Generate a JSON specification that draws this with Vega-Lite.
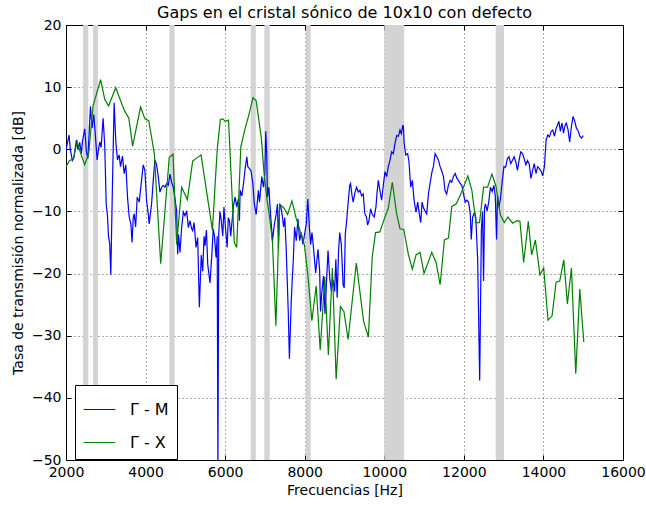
{
  "$schema": "https://vega.github.io/schema/vega-lite/v6.json",
  "autosize": "none",
  "width": 557,
  "height": 435,
  "padding": {"left": 66, "top": 25, "right": 23, "bottom": 45},
  "background": "white",
  "config": {
    "font": "DejaVu Sans",
    "view": {"stroke": "black", "strokeWidth": 1},
    "axis": {"labelFont": "DejaVu Sans", "titleFont": "DejaVu Sans", "labelColor": "black", "titleColor": "black", "domainColor": "black", "tickColor": "black", "titleFontWeight": "normal"}
  },
  "title": {"text": "Gaps en el cristal sónico de 10x10 con defecto", "font": "DejaVu Sans", "fontSize": 16, "fontWeight": "normal", "color": "black", "offset": 5, "dy": 8},
  "datasets": {
    "bands": [
      {"a": 2430, "b": 2560}, {"a": 2680, "b": 2805}, {"a": 4600, "b": 4730}, {"a": 6645, "b": 6770},
      {"a": 6985, "b": 7120}, {"a": 8030, "b": 8150}, {"a": 10000, "b": 10500}, {"a": 12800, "b": 13010}
    ],
    "series": [
      {"s": "Γ - M", "f": 2000, "v": -0.1}, {"s": "Γ - M", "f": 2026, "v": 0.7}, {"s": "Γ - M", "f": 2076, "v": 2.3}, {"s": "Γ - M", "f": 2110, "v": -0.1},
      {"s": "Γ - M", "f": 2160, "v": -1.8}, {"s": "Γ - M", "f": 2202, "v": -1.3}, {"s": "Γ - M", "f": 2261, "v": 1.5}, {"s": "Γ - M", "f": 2303, "v": -0.1},
      {"s": "Γ - M", "f": 2345, "v": 1.1}, {"s": "Γ - M", "f": 2387, "v": -0.7}, {"s": "Γ - M", "f": 2412, "v": 1.2}, {"s": "Γ - M", "f": 2471, "v": 3.3},
      {"s": "Γ - M", "f": 2513, "v": -0.4}, {"s": "Γ - M", "f": 2550, "v": -1.5}, {"s": "Γ - M", "f": 2614, "v": 6.9}, {"s": "Γ - M", "f": 2656, "v": 3.4},
      {"s": "Γ - M", "f": 2698, "v": 5.6}, {"s": "Γ - M", "f": 2740, "v": 2.1}, {"s": "Γ - M", "f": 2782, "v": -1.7}, {"s": "Γ - M", "f": 2816, "v": -0.1},
      {"s": "Γ - M", "f": 2849, "v": 1.2}, {"s": "Γ - M", "f": 2883, "v": 0.3}, {"s": "Γ - M", "f": 2933, "v": 5.0}, {"s": "Γ - M", "f": 2975, "v": 0.4},
      {"s": "Γ - M", "f": 3010, "v": -8.8}, {"s": "Γ - M", "f": 3040, "v": -10.5}, {"s": "Γ - M", "f": 3067, "v": -13.9}, {"s": "Γ - M", "f": 3100, "v": -15.3},
      {"s": "Γ - M", "f": 3126, "v": -20.2}, {"s": "Γ - M", "f": 3170, "v": -5}, {"s": "Γ - M", "f": 3210, "v": 7.5}, {"s": "Γ - M", "f": 3252, "v": 1.2},
      {"s": "Γ - M", "f": 3294, "v": -1.7}, {"s": "Γ - M", "f": 3336, "v": -0.9}, {"s": "Γ - M", "f": 3370, "v": -2.8}, {"s": "Γ - M", "f": 3420, "v": -1.1},
      {"s": "Γ - M", "f": 3462, "v": -3.9}, {"s": "Γ - M", "f": 3504, "v": -2.5}, {"s": "Γ - M", "f": 3546, "v": -7.7}, {"s": "Γ - M", "f": 3588, "v": -10.9},
      {"s": "Γ - M", "f": 3630, "v": -12}, {"s": "Γ - M", "f": 3660, "v": -15}, {"s": "Γ - M", "f": 3690, "v": -11}, {"s": "Γ - M", "f": 3714, "v": -10.4},
      {"s": "Γ - M", "f": 3750, "v": -12.5}, {"s": "Γ - M", "f": 3790, "v": -7.7}, {"s": "Γ - M", "f": 3840, "v": -8.5}, {"s": "Γ - M", "f": 3899, "v": -5.0},
      {"s": "Γ - M", "f": 3941, "v": -2.5}, {"s": "Γ - M", "f": 3983, "v": -3.4}, {"s": "Γ - M", "f": 4025, "v": -8.2}, {"s": "Γ - M", "f": 4067, "v": -10.4},
      {"s": "Γ - M", "f": 4092, "v": -12.0}, {"s": "Γ - M", "f": 4109, "v": -11}, {"s": "Γ - M", "f": 4151, "v": -8.8}, {"s": "Γ - M", "f": 4193, "v": -5.0},
      {"s": "Γ - M", "f": 4235, "v": -1.7}, {"s": "Γ - M", "f": 4277, "v": -2.5}, {"s": "Γ - M", "f": 4319, "v": -4.4}, {"s": "Γ - M", "f": 4361, "v": -6.9},
      {"s": "Γ - M", "f": 4403, "v": -6.1}, {"s": "Γ - M", "f": 4445, "v": -5.8}, {"s": "Γ - M", "f": 4487, "v": -6.1}, {"s": "Γ - M", "f": 4529, "v": -5.5},
      {"s": "Γ - M", "f": 4571, "v": -5.8}, {"s": "Γ - M", "f": 4613, "v": -4.0}, {"s": "Γ - M", "f": 4655, "v": -5.3}, {"s": "Γ - M", "f": 4697, "v": -6.1},
      {"s": "Γ - M", "f": 4739, "v": -8.0}, {"s": "Γ - M", "f": 4781, "v": -9.9}, {"s": "Γ - M", "f": 4806, "v": -16.9}, {"s": "Γ - M", "f": 4830, "v": -13.7},
      {"s": "Γ - M", "f": 4865, "v": -16.6}, {"s": "Γ - M", "f": 4907, "v": -12.6}, {"s": "Γ - M", "f": 4949, "v": -10.1}, {"s": "Γ - M", "f": 4991, "v": -10.7},
      {"s": "Γ - M", "f": 5033, "v": -9.9}, {"s": "Γ - M", "f": 5075, "v": -12.6}, {"s": "Γ - M", "f": 5117, "v": -11.5}, {"s": "Γ - M", "f": 5159, "v": -12.8},
      {"s": "Γ - M", "f": 5184, "v": -13.1}, {"s": "Γ - M", "f": 5220, "v": -11.8}, {"s": "Γ - M", "f": 5268, "v": -15.8}, {"s": "Γ - M", "f": 5310, "v": -14.2},
      {"s": "Γ - M", "f": 5352, "v": -25.4}, {"s": "Γ - M", "f": 5400, "v": -17}, {"s": "Γ - M", "f": 5436, "v": -19.6}, {"s": "Γ - M", "f": 5470, "v": -14},
      {"s": "Γ - M", "f": 5494, "v": -15.5}, {"s": "Γ - M", "f": 5530, "v": -13}, {"s": "Γ - M", "f": 5562, "v": -18.5}, {"s": "Γ - M", "f": 5620, "v": -21.5},
      {"s": "Γ - M", "f": 5672, "v": -16.3}, {"s": "Γ - M", "f": 5700, "v": -12.8}, {"s": "Γ - M", "f": 5730, "v": -13.9}, {"s": "Γ - M", "f": 5772, "v": -17.4},
      {"s": "Γ - M", "f": 5800, "v": -14}, {"s": "Γ - M", "f": 5818, "v": -52}, {"s": "Γ - M", "f": 5839, "v": -13.6}, {"s": "Γ - M", "f": 5870, "v": -10},
      {"s": "Γ - M", "f": 5898, "v": -11.2}, {"s": "Γ - M", "f": 5940, "v": -14}, {"s": "Γ - M", "f": 5970, "v": -9.3}, {"s": "Γ - M", "f": 6000, "v": -12.0},
      {"s": "Γ - M", "f": 6050, "v": -15.8}, {"s": "Γ - M", "f": 6080, "v": -11}, {"s": "Γ - M", "f": 6108, "v": -11.5}, {"s": "Γ - M", "f": 6140, "v": -14},
      {"s": "Γ - M", "f": 6167, "v": -12.0}, {"s": "Γ - M", "f": 6192, "v": -10.4}, {"s": "Γ - M", "f": 6209, "v": -9.1}, {"s": "Γ - M", "f": 6251, "v": -7.7},
      {"s": "Γ - M", "f": 6293, "v": -9.3}, {"s": "Γ - M", "f": 6330, "v": -8}, {"s": "Γ - M", "f": 6360, "v": -11.5}, {"s": "Γ - M", "f": 6377, "v": -6.6},
      {"s": "Γ - M", "f": 6420, "v": -7.5}, {"s": "Γ - M", "f": 6461, "v": -5.5}, {"s": "Γ - M", "f": 6503, "v": -3.1}, {"s": "Γ - M", "f": 6545, "v": -1.2},
      {"s": "Γ - M", "f": 6570, "v": -2.8}, {"s": "Γ - M", "f": 6612, "v": -3.1}, {"s": "Γ - M", "f": 6650, "v": -3.5}, {"s": "Γ - M", "f": 6696, "v": -5.5},
      {"s": "Γ - M", "f": 6734, "v": -8.8}, {"s": "Γ - M", "f": 6780, "v": -10.5}, {"s": "Γ - M", "f": 6835, "v": -6.6}, {"s": "Γ - M", "f": 6864, "v": -8.5},
      {"s": "Γ - M", "f": 6920, "v": -4.4}, {"s": "Γ - M", "f": 6964, "v": -6.1}, {"s": "Γ - M", "f": 6998, "v": -3.9}, {"s": "Γ - M", "f": 7020, "v": 2.9},
      {"s": "Γ - M", "f": 7045, "v": -0.7}, {"s": "Γ - M", "f": 7063, "v": -7.7}, {"s": "Γ - M", "f": 7099, "v": -6.1}, {"s": "Γ - M", "f": 7141, "v": -10.4},
      {"s": "Γ - M", "f": 7190, "v": -14.7}, {"s": "Γ - M", "f": 7232, "v": -12.3}, {"s": "Γ - M", "f": 7284, "v": -10.4}, {"s": "Γ - M", "f": 7316, "v": -8.8},
      {"s": "Γ - M", "f": 7340, "v": -16}, {"s": "Γ - M", "f": 7370, "v": -9.1}, {"s": "Γ - M", "f": 7401, "v": -9.3}, {"s": "Γ - M", "f": 7437, "v": -10.7},
      {"s": "Γ - M", "f": 7469, "v": -12.5}, {"s": "Γ - M", "f": 7500, "v": -11}, {"s": "Γ - M", "f": 7536, "v": -16.3}, {"s": "Γ - M", "f": 7586, "v": -26.1},
      {"s": "Γ - M", "f": 7615, "v": -33.7}, {"s": "Γ - M", "f": 7662, "v": -24.4}, {"s": "Γ - M", "f": 7690, "v": -20.5}, {"s": "Γ - M", "f": 7704, "v": -19.1},
      {"s": "Γ - M", "f": 7746, "v": -12.5}, {"s": "Γ - M", "f": 7788, "v": -14.7}, {"s": "Γ - M", "f": 7830, "v": -11.2}, {"s": "Γ - M", "f": 7872, "v": -14.7},
      {"s": "Γ - M", "f": 7914, "v": -13.4}, {"s": "Γ - M", "f": 7956, "v": -15.3}, {"s": "Γ - M", "f": 7998, "v": -13.6}, {"s": "Γ - M", "f": 8040, "v": -12.0},
      {"s": "Γ - M", "f": 8076, "v": -8.0}, {"s": "Γ - M", "f": 8118, "v": -12.6}, {"s": "Γ - M", "f": 8150, "v": -15.3}, {"s": "Γ - M", "f": 8182, "v": -13.4},
      {"s": "Γ - M", "f": 8224, "v": -16.1}, {"s": "Γ - M", "f": 8275, "v": -19.9}, {"s": "Γ - M", "f": 8334, "v": -16.1}, {"s": "Γ - M", "f": 8376, "v": -19.6},
      {"s": "Γ - M", "f": 8397, "v": -26.1}, {"s": "Γ - M", "f": 8430, "v": -23}, {"s": "Γ - M", "f": 8473, "v": -20.4}, {"s": "Γ - M", "f": 8510, "v": -26.5},
      {"s": "Γ - M", "f": 8544, "v": -21.8}, {"s": "Γ - M", "f": 8586, "v": -16.3}, {"s": "Γ - M", "f": 8628, "v": -20.7}, {"s": "Γ - M", "f": 8670, "v": -22.8},
      {"s": "Γ - M", "f": 8712, "v": -21}, {"s": "Γ - M", "f": 8751, "v": -22.9}, {"s": "Γ - M", "f": 8782, "v": -17.7}, {"s": "Γ - M", "f": 8816, "v": -23.9},
      {"s": "Γ - M", "f": 8850, "v": -16.5}, {"s": "Γ - M", "f": 8880, "v": -13.4}, {"s": "Γ - M", "f": 8920, "v": -15.3}, {"s": "Γ - M", "f": 8964, "v": -21.8},
      {"s": "Γ - M", "f": 8992, "v": -22.3}, {"s": "Γ - M", "f": 9020, "v": -13.6}, {"s": "Γ - M", "f": 9047, "v": -12.0}, {"s": "Γ - M", "f": 9089, "v": -8.8},
      {"s": "Γ - M", "f": 9131, "v": -5.8}, {"s": "Γ - M", "f": 9152, "v": -5.5}, {"s": "Γ - M", "f": 9190, "v": -7.5}, {"s": "Γ - M", "f": 9219, "v": -8.5},
      {"s": "Γ - M", "f": 9260, "v": -7}, {"s": "Γ - M", "f": 9303, "v": -6.1}, {"s": "Γ - M", "f": 9345, "v": -6.9}, {"s": "Γ - M", "f": 9387, "v": -6.6},
      {"s": "Γ - M", "f": 9430, "v": -7.5}, {"s": "Γ - M", "f": 9471, "v": -7.2}, {"s": "Γ - M", "f": 9511, "v": -10.4}, {"s": "Γ - M", "f": 9553, "v": -10.9},
      {"s": "Γ - M", "f": 9580, "v": -12.2}, {"s": "Γ - M", "f": 9615, "v": -11.5}, {"s": "Γ - M", "f": 9656, "v": -9.6}, {"s": "Γ - M", "f": 9700, "v": -10.5},
      {"s": "Γ - M", "f": 9748, "v": -10.9}, {"s": "Γ - M", "f": 9790, "v": -9.3}, {"s": "Γ - M", "f": 9820, "v": -6.9}, {"s": "Γ - M", "f": 9849, "v": -5.0},
      {"s": "Γ - M", "f": 9890, "v": -6.6}, {"s": "Γ - M", "f": 9933, "v": -8.2}, {"s": "Γ - M", "f": 9975, "v": -5.8}, {"s": "Γ - M", "f": 10017, "v": -3.6},
      {"s": "Γ - M", "f": 10059, "v": -4.4}, {"s": "Γ - M", "f": 10101, "v": -2.8}, {"s": "Γ - M", "f": 10143, "v": -1.8}, {"s": "Γ - M", "f": 10185, "v": -0.4},
      {"s": "Γ - M", "f": 10228, "v": -0.7}, {"s": "Γ - M", "f": 10269, "v": 0.9}, {"s": "Γ - M", "f": 10311, "v": 2.2}, {"s": "Γ - M", "f": 10354, "v": 2.1},
      {"s": "Γ - M", "f": 10395, "v": 3.1}, {"s": "Γ - M", "f": 10430, "v": 2.5}, {"s": "Γ - M", "f": 10465, "v": 3.9}, {"s": "Γ - M", "f": 10480, "v": 3.6},
      {"s": "Γ - M", "f": 10500, "v": 1.0}, {"s": "Γ - M", "f": 10538, "v": -0.9}, {"s": "Γ - M", "f": 10588, "v": -0.7}, {"s": "Γ - M", "f": 10620, "v": -2},
      {"s": "Γ - M", "f": 10664, "v": -6.1}, {"s": "Γ - M", "f": 10706, "v": -5.0}, {"s": "Γ - M", "f": 10748, "v": -8.2}, {"s": "Γ - M", "f": 10798, "v": -10.1},
      {"s": "Γ - M", "f": 10840, "v": -8.5}, {"s": "Γ - M", "f": 10880, "v": -10.4}, {"s": "Γ - M", "f": 10916, "v": -11.8}, {"s": "Γ - M", "f": 10949, "v": -8.5},
      {"s": "Γ - M", "f": 10990, "v": -9.5}, {"s": "Γ - M", "f": 11030, "v": -10}, {"s": "Γ - M", "f": 11067, "v": -10.4}, {"s": "Γ - M", "f": 11109, "v": -7.2},
      {"s": "Γ - M", "f": 11151, "v": -5.5}, {"s": "Γ - M", "f": 11199, "v": -3.6}, {"s": "Γ - M", "f": 11235, "v": -2.8}, {"s": "Γ - M", "f": 11277, "v": -0.7},
      {"s": "Γ - M", "f": 11320, "v": -1.2}, {"s": "Γ - M", "f": 11361, "v": -1.7}, {"s": "Γ - M", "f": 11403, "v": -2.8}, {"s": "Γ - M", "f": 11441, "v": -3.4},
      {"s": "Γ - M", "f": 11487, "v": -4.4}, {"s": "Γ - M", "f": 11526, "v": -6.6}, {"s": "Γ - M", "f": 11568, "v": -7.2}, {"s": "Γ - M", "f": 11610, "v": -5.8},
      {"s": "Γ - M", "f": 11655, "v": -5.0}, {"s": "Γ - M", "f": 11695, "v": -5.3}, {"s": "Γ - M", "f": 11737, "v": -4.4}, {"s": "Γ - M", "f": 11780, "v": -3.9},
      {"s": "Γ - M", "f": 11822, "v": -4.6}, {"s": "Γ - M", "f": 11864, "v": -5.0}, {"s": "Γ - M", "f": 11907, "v": -5.5}, {"s": "Γ - M", "f": 11949, "v": -5.8},
      {"s": "Γ - M", "f": 11992, "v": -7.2}, {"s": "Γ - M", "f": 12034, "v": -8.5}, {"s": "Γ - M", "f": 12075, "v": -8.2}, {"s": "Γ - M", "f": 12119, "v": -8.5},
      {"s": "Γ - M", "f": 12161, "v": -10.4}, {"s": "Γ - M", "f": 12186, "v": -14.5}, {"s": "Γ - M", "f": 12220, "v": -10.9}, {"s": "Γ - M", "f": 12271, "v": -10.1},
      {"s": "Γ - M", "f": 12300, "v": -11}, {"s": "Γ - M", "f": 12347, "v": -17.7}, {"s": "Γ - M", "f": 12398, "v": -37.2}, {"s": "Γ - M", "f": 12440, "v": -13},
      {"s": "Γ - M", "f": 12470, "v": -10}, {"s": "Γ - M", "f": 12495, "v": -21.2}, {"s": "Γ - M", "f": 12520, "v": -9.5}, {"s": "Γ - M", "f": 12542, "v": -8.8},
      {"s": "Γ - M", "f": 12584, "v": -9.9}, {"s": "Γ - M", "f": 12625, "v": -8.5}, {"s": "Γ - M", "f": 12669, "v": -6.1}, {"s": "Γ - M", "f": 12711, "v": -6.8},
      {"s": "Γ - M", "f": 12754, "v": -5.8}, {"s": "Γ - M", "f": 12790, "v": -7.5}, {"s": "Γ - M", "f": 12822, "v": -14.5}, {"s": "Γ - M", "f": 12847, "v": -7.4},
      {"s": "Γ - M", "f": 12881, "v": -9.3}, {"s": "Γ - M", "f": 12920, "v": -8}, {"s": "Γ - M", "f": 12966, "v": -5.0}, {"s": "Γ - M", "f": 13008, "v": -2.8},
      {"s": "Γ - M", "f": 13050, "v": -2.9}, {"s": "Γ - M", "f": 13093, "v": -1.5}, {"s": "Γ - M", "f": 13135, "v": -1.2}, {"s": "Γ - M", "f": 13177, "v": -2.3},
      {"s": "Γ - M", "f": 13220, "v": -1.8}, {"s": "Γ - M", "f": 13262, "v": -1.2}, {"s": "Γ - M", "f": 13304, "v": -2.0}, {"s": "Γ - M", "f": 13347, "v": -3.4},
      {"s": "Γ - M", "f": 13389, "v": -1.7}, {"s": "Γ - M", "f": 13431, "v": -0.4}, {"s": "Γ - M", "f": 13474, "v": -0.7}, {"s": "Γ - M", "f": 13516, "v": -1.5},
      {"s": "Γ - M", "f": 13558, "v": -2.5}, {"s": "Γ - M", "f": 13600, "v": -1.8}, {"s": "Γ - M", "f": 13644, "v": -2.4}, {"s": "Γ - M", "f": 13686, "v": -4.7},
      {"s": "Γ - M", "f": 13728, "v": -3.4}, {"s": "Γ - M", "f": 13770, "v": -2.3}, {"s": "Γ - M", "f": 13813, "v": -3.9}, {"s": "Γ - M", "f": 13855, "v": -2.8},
      {"s": "Γ - M", "f": 13897, "v": -3.1}, {"s": "Γ - M", "f": 13940, "v": -3.5}, {"s": "Γ - M", "f": 13982, "v": -4.3}, {"s": "Γ - M", "f": 14024, "v": -2.8},
      {"s": "Γ - M", "f": 14067, "v": 1.5}, {"s": "Γ - M", "f": 14109, "v": 2.3}, {"s": "Γ - M", "f": 14152, "v": 2.0}, {"s": "Γ - M", "f": 14194, "v": 2.9},
      {"s": "Γ - M", "f": 14236, "v": 3.1}, {"s": "Γ - M", "f": 14278, "v": 2.1}, {"s": "Γ - M", "f": 14321, "v": 3.4}, {"s": "Γ - M", "f": 14360, "v": 4.0},
      {"s": "Γ - M", "f": 14389, "v": 4.5}, {"s": "Γ - M", "f": 14425, "v": 2.9}, {"s": "Γ - M", "f": 14465, "v": 4.2}, {"s": "Γ - M", "f": 14507, "v": 2.6},
      {"s": "Γ - M", "f": 14540, "v": 3.8}, {"s": "Γ - M", "f": 14575, "v": 4.2}, {"s": "Γ - M", "f": 14617, "v": 3.2}, {"s": "Γ - M", "f": 14660, "v": 1.2},
      {"s": "Γ - M", "f": 14700, "v": 3.5}, {"s": "Γ - M", "f": 14744, "v": 5.3}, {"s": "Γ - M", "f": 14787, "v": 4.5}, {"s": "Γ - M", "f": 14829, "v": 3.4},
      {"s": "Γ - M", "f": 14871, "v": 3.0}, {"s": "Γ - M", "f": 14914, "v": 2.1}, {"s": "Γ - M", "f": 14956, "v": 1.8}, {"s": "Γ - M", "f": 15000, "v": 2.2},

      {"s": "Γ - X", "f": 2000, "v": -2.8}, {"s": "Γ - X", "f": 2090, "v": -1.8}, {"s": "Γ - X", "f": 2180, "v": -1.6}, {"s": "Γ - X", "f": 2280, "v": 1.2},
      {"s": "Γ - X", "f": 2360, "v": -0.5}, {"s": "Γ - X", "f": 2470, "v": -2.5}, {"s": "Γ - X", "f": 2570, "v": -0.7}, {"s": "Γ - X", "f": 2680, "v": 7.0},
      {"s": "Γ - X", "f": 2870, "v": 11.2}, {"s": "Γ - X", "f": 2975, "v": 8.0}, {"s": "Γ - X", "f": 3070, "v": 7.0}, {"s": "Γ - X", "f": 3250, "v": 9.9},
      {"s": "Γ - X", "f": 3420, "v": 7.0}, {"s": "Γ - X", "f": 3480, "v": 6.1}, {"s": "Γ - X", "f": 3580, "v": 5.0}, {"s": "Γ - X", "f": 3675, "v": 0.5},
      {"s": "Γ - X", "f": 3874, "v": 6.8}, {"s": "Γ - X", "f": 3985, "v": 4.9}, {"s": "Γ - X", "f": 4080, "v": 4.6}, {"s": "Γ - X", "f": 4220, "v": -0.7},
      {"s": "Γ - X", "f": 4380, "v": -18.4}, {"s": "Γ - X", "f": 4596, "v": -1.3}, {"s": "Γ - X", "f": 4690, "v": -0.8}, {"s": "Γ - X", "f": 4781, "v": -15.3},
      {"s": "Γ - X", "f": 4907, "v": -6.1}, {"s": "Γ - X", "f": 5050, "v": -8.1}, {"s": "Γ - X", "f": 5184, "v": -1.9}, {"s": "Γ - X", "f": 5352, "v": -1.1},
      {"s": "Γ - X", "f": 5395, "v": -0.9}, {"s": "Γ - X", "f": 5680, "v": -13}, {"s": "Γ - X", "f": 5800, "v": -0.1}, {"s": "Γ - X", "f": 5880, "v": 4.8},
      {"s": "Γ - X", "f": 5945, "v": 4.9}, {"s": "Γ - X", "f": 6000, "v": 4.5}, {"s": "Γ - X", "f": 6085, "v": 4.7}, {"s": "Γ - X", "f": 6230, "v": -15},
      {"s": "Γ - X", "f": 6290, "v": -15.8}, {"s": "Γ - X", "f": 6394, "v": 0.4}, {"s": "Γ - X", "f": 6500, "v": 3.3}, {"s": "Γ - X", "f": 6595, "v": 5.5},
      {"s": "Γ - X", "f": 6700, "v": 8.3}, {"s": "Γ - X", "f": 6780, "v": 7.8}, {"s": "Γ - X", "f": 6910, "v": 1.8}, {"s": "Γ - X", "f": 6980, "v": -4},
      {"s": "Γ - X", "f": 7050, "v": -8}, {"s": "Γ - X", "f": 7110, "v": -10.5}, {"s": "Γ - X", "f": 7190, "v": -15}, {"s": "Γ - X", "f": 7275, "v": -28.4},
      {"s": "Γ - X", "f": 7370, "v": -8.8}, {"s": "Γ - X", "f": 7470, "v": -9.4}, {"s": "Γ - X", "f": 7570, "v": -10.5}, {"s": "Γ - X", "f": 7680, "v": -8.3},
      {"s": "Γ - X", "f": 7780, "v": -11}, {"s": "Γ - X", "f": 7990, "v": -15.3}, {"s": "Γ - X", "f": 8075, "v": -20}, {"s": "Γ - X", "f": 8180, "v": -27.6},
      {"s": "Γ - X", "f": 8288, "v": -22}, {"s": "Γ - X", "f": 8390, "v": -32.3}, {"s": "Γ - X", "f": 8505, "v": -20.5}, {"s": "Γ - X", "f": 8595, "v": -33.1},
      {"s": "Γ - X", "f": 8695, "v": -19.1}, {"s": "Γ - X", "f": 8790, "v": -37.0}, {"s": "Γ - X", "f": 8898, "v": -25.3}, {"s": "Γ - X", "f": 8985, "v": -26.1},
      {"s": "Γ - X", "f": 9090, "v": -30.6}, {"s": "Γ - X", "f": 9297, "v": -18.3}, {"s": "Γ - X", "f": 9480, "v": -27.7}, {"s": "Γ - X", "f": 9600, "v": -30.2},
      {"s": "Γ - X", "f": 9697, "v": -17.3}, {"s": "Γ - X", "f": 9780, "v": -13.4}, {"s": "Γ - X", "f": 9890, "v": -13.3}, {"s": "Γ - X", "f": 10000, "v": -11.2},
      {"s": "Γ - X", "f": 10100, "v": -9.5}, {"s": "Γ - X", "f": 10202, "v": -5.3}, {"s": "Γ - X", "f": 10311, "v": -10.4}, {"s": "Γ - X", "f": 10395, "v": -12.8},
      {"s": "Γ - X", "f": 10490, "v": -12.9}, {"s": "Γ - X", "f": 10605, "v": -16.9}, {"s": "Γ - X", "f": 10706, "v": -19.3}, {"s": "Γ - X", "f": 10798, "v": -17},
      {"s": "Γ - X", "f": 10899, "v": -16.6}, {"s": "Γ - X", "f": 11000, "v": -20}, {"s": "Γ - X", "f": 11193, "v": -16.6}, {"s": "Γ - X", "f": 11302, "v": -18.2},
      {"s": "Γ - X", "f": 11403, "v": -21.8}, {"s": "Γ - X", "f": 11512, "v": -14.6}, {"s": "Γ - X", "f": 11613, "v": -14.3}, {"s": "Γ - X", "f": 11697, "v": -9.2},
      {"s": "Γ - X", "f": 11806, "v": -8.8}, {"s": "Γ - X", "f": 11924, "v": -7.2}, {"s": "Γ - X", "f": 12100, "v": -4.3}, {"s": "Γ - X", "f": 12201, "v": -6.6},
      {"s": "Γ - X", "f": 12302, "v": -11.8}, {"s": "Γ - X", "f": 12394, "v": -11.8}, {"s": "Γ - X", "f": 12495, "v": -6.1}, {"s": "Γ - X", "f": 12596, "v": -6.1},
      {"s": "Γ - X", "f": 12705, "v": -4.0}, {"s": "Γ - X", "f": 12806, "v": -5.9}, {"s": "Γ - X", "f": 12915, "v": -10.5}, {"s": "Γ - X", "f": 13016, "v": -11.8},
      {"s": "Γ - X", "f": 13108, "v": -10.9}, {"s": "Γ - X", "f": 13226, "v": -11.9}, {"s": "Γ - X", "f": 13335, "v": -11.5}, {"s": "Γ - X", "f": 13410, "v": -11.6},
      {"s": "Γ - X", "f": 13503, "v": -18.2}, {"s": "Γ - X", "f": 13620, "v": -11.6}, {"s": "Γ - X", "f": 13704, "v": -17}, {"s": "Γ - X", "f": 13797, "v": -14.6},
      {"s": "Γ - X", "f": 13914, "v": -20.2}, {"s": "Γ - X", "f": 14006, "v": -19.1}, {"s": "Γ - X", "f": 14116, "v": -27.5}, {"s": "Γ - X", "f": 14217, "v": -26.8},
      {"s": "Γ - X", "f": 14318, "v": -21.4}, {"s": "Γ - X", "f": 14410, "v": -21.2}, {"s": "Γ - X", "f": 14511, "v": -17.8}, {"s": "Γ - X", "f": 14603, "v": -24.9},
      {"s": "Γ - X", "f": 14704, "v": -19.1}, {"s": "Γ - X", "f": 14813, "v": -36.1}, {"s": "Γ - X", "f": 14914, "v": -22.5}, {"s": "Γ - X", "f": 15015, "v": -31.0}
    ]
  },
  "layer": [
    {
      "data": {"name": "bands"},
      "mark": {"type": "rect", "color": "#d3d3d3", "opacity": 1},
      "encoding": {
        "x": {"field": "a", "type": "quantitative", "scale": {"domain": [2000, 16000], "nice": false, "zero": false},
          "axis": {"orient": "bottom", "values": [2000, 4000, 6000, 8000, 10000, 12000, 14000, 16000], "format": "d", "title": "Frecuencias [Hz]", "titleFontSize": 14, "titlePadding": 4,
            "labelFontSize": 14, "tickSize": -5, "labelPadding": 10, "labelFlush": false, "grid": true, "gridColor": "black", "gridDash": [1, 3], "gridOpacity": 0.8, "gridWidth": 0.8, "domain": false}},
        "x2": {"field": "b"},
        "y": {"datum": 20, "type": "quantitative", "scale": {"domain": [-50, 20], "nice": false, "zero": false},
          "axis": {"orient": "left", "values": [-50, -40, -30, -20, -10, 0, 10, 20], "format": "d", "title": "Tasa de transmisión normalizada [dB]", "titleFontSize": 14, "titlePadding": 6,
            "labelFontSize": 14, "tickSize": -5, "labelPadding": 10, "labelFlush": false, "grid": true, "gridColor": "black", "gridDash": [1, 3], "gridOpacity": 0.8, "gridWidth": 0.8, "domain": false}},
        "y2": {"datum": -50}
      }
    },
    {
      "data": {"name": "series"},
      "mark": {"type": "line", "strokeWidth": 1.2, "clip": true, "interpolate": "linear"},
      "encoding": {
        "x": {"field": "f", "type": "quantitative", "scale": {"domain": [2000, 16000], "nice": false, "zero": false},
          "axis": {"orient": "top", "values": [2000, 4000, 6000, 8000, 10000, 12000, 14000, 16000], "labels": false, "title": null, "tickSize": -5, "grid": false, "domain": false}},
        "y": {"field": "v", "type": "quantitative", "scale": {"domain": [-50, 20], "nice": false, "zero": false},
          "axis": {"orient": "right", "values": [-50, -40, -30, -20, -10, 0, 10, 20], "labels": false, "title": null, "tickSize": -5, "grid": false, "domain": false}},
        "color": {"field": "s", "type": "nominal", "scale": {"domain": ["Γ - M", "Γ - X"], "range": ["#0000ff", "#008000"]},
          "legend": {"title": null, "orient": "none", "legendX": 9, "legendY": 360, "fillColor": "white", "strokeColor": "black", "padding": 8,
            "symbolType": "stroke", "symbolSize": 1000, "symbolStrokeWidth": 1.2, "labelFont": "DejaVu Sans", "labelFontSize": 16, "labelColor": "black",
            "rowPadding": 8, "labelOffset": 14, "labelLimit": 200}},
        "order": {"field": "f", "type": "quantitative"}
      }
    }
  ],
  "resolve": {"axis": {"x": "independent", "y": "independent"}}
}
